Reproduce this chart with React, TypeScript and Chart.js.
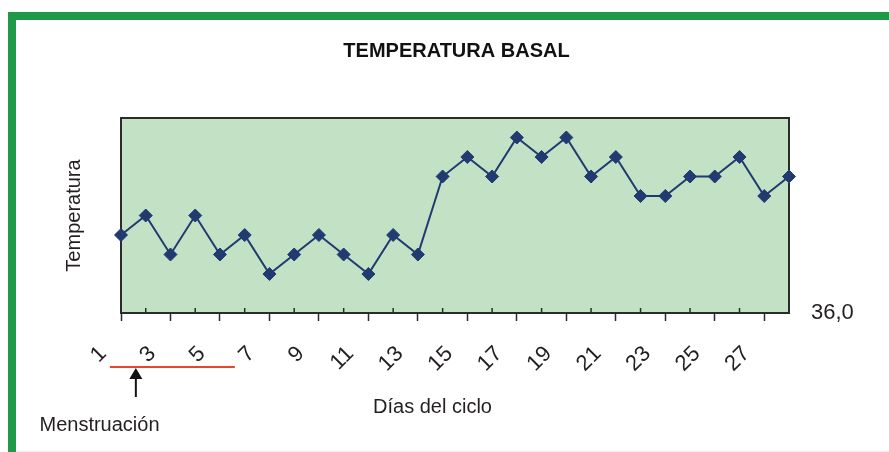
import { useEffect, useRef } from 'react';
import { Chart, registerables } from 'chart.js';

Chart.register(...registerables);

const FONT = '"Liberation Sans", Arial, Helvetica, sans-serif';
const TEXT_COLOR = '#231F20';
const FRAME_GREEN = '#1E9A48';
const PLOT_BG = '#C2E1C5';
const PLOT_BORDER = '#2B2B2B';
const LINE_COLOR = '#213A70';
const NOTE_RED = '#E8452C';

const chartTitle = 'TEMPERATURA BASAL';
const yAxisTitle = 'Temperatura';
const xAxisTitle = 'Días del ciclo';
const noteText = 'Menstruación';

const days = ['1', '2', '3', '4', '5', '6', '7', '8', '9', '10', '11', '12', '13', '14',
  '15', '16', '17', '18', '19', '20', '21', '22', '23', '24', '25', '26', '27', '28'];
const labeledDays = ['1', '3', '5', '7', '9', '11', '13', '15', '17', '19', '21', '23', '25', '27'];
const temperatures = [36.4, 36.5, 36.3, 36.5, 36.3, 36.4, 36.2, 36.3, 36.4, 36.3, 36.2, 36.4, 36.3, 36.7,
  36.8, 36.7, 36.9, 36.8, 36.9, 36.7, 36.8, 36.6, 36.6, 36.7, 36.7, 36.8, 36.6, 36.7];
const yRange = [36.0, 37.0];
const yTickValues = [36.0];
const yTickLabels = ['36,0'];
const menstruationDays = ['1', '5'];

const decorPlugin = {
  id: 'decor',
  beforeDraw(chart: any) {
    const { ctx, chartArea: a } = chart;
    ctx.save();
    ctx.fillStyle = PLOT_BG;
    ctx.fillRect(a.left, a.top, a.right - a.left, a.bottom - a.top);
    ctx.restore();
  },
  beforeDatasetsDraw(chart: any) {
    const { ctx, chartArea: a, scales } = chart;
    const x = scales.x;
    ctx.save();
    ctx.strokeStyle = PLOT_BORDER;
    ctx.lineWidth = 1.5;
    x.ticks.forEach((_t: any, i: number) => {
      if (i % 2 === 1 && i < days.length - 1) {
        const px = x.getPixelForTick(i);
        ctx.beginPath();
        ctx.moveTo(px, a.bottom);
        ctx.lineTo(px, a.bottom - 5);
        ctx.stroke();
      }
    });
    ctx.lineWidth = 2;
    ctx.strokeRect(a.left, a.top, a.right - a.left, a.bottom - a.top);
    ctx.restore();
  },
  afterDraw(chart: any) {
    const { ctx, scales } = chart;
    const x = scales.x;
    ctx.save();
    // x axis title
    ctx.fillStyle = TEXT_COLOR;
    ctx.font = `20px ${FONT}`;
    ctx.textAlign = 'center';
    ctx.textBaseline = 'alphabetic';
    ctx.fillText(xAxisTitle, (x.left + x.right) / 2 - 22.5, 413);

    // menstruation annotation
    const i0 = days.indexOf(menstruationDays[0]);
    const i1 = days.indexOf(menstruationDays[1]);
    const step = x.getPixelForValue(1) - x.getPixelForValue(0);
    const x0 = x.getPixelForValue(i0) - 0.45 * step;
    const x1 = x.getPixelForValue(i1) + 0.6 * step;
    ctx.strokeStyle = NOTE_RED;
    ctx.lineWidth = 2;
    ctx.beginPath();
    ctx.moveTo(x0, 367);
    ctx.lineTo(x1, 367);
    ctx.stroke();

    const ax = x.getPixelForValue(i0) + 0.6 * step;
    ctx.strokeStyle = '#111';
    ctx.fillStyle = '#111';
    ctx.lineWidth = 2;
    ctx.beginPath();
    ctx.moveTo(ax, 376);
    ctx.lineTo(ax, 397);
    ctx.stroke();
    ctx.beginPath();
    ctx.moveTo(ax, 368);
    ctx.lineTo(ax - 6.5, 379);
    ctx.lineTo(ax + 6.5, 379);
    ctx.closePath();
    ctx.fill();

    ctx.fillStyle = TEXT_COLOR;
    ctx.textAlign = 'left';
    ctx.font = `20px ${FONT}`;
    ctx.fillText(noteText, 39.5, 431);
    ctx.restore();
  },
};

export default function App() {
  const ref = useRef<HTMLCanvasElement | null>(null);

  useEffect(() => {
    if (!ref.current) return;
    const chart = new Chart(ref.current, {
      type: 'line',
      data: {
        labels: days,
        datasets: [
          {
            data: temperatures,
            borderColor: LINE_COLOR,
            backgroundColor: LINE_COLOR,
            borderWidth: 2,
            pointStyle: 'rectRot',
            pointRadius: 6.5,
            pointHoverRadius: 6.5,
            pointBorderWidth: 1,
            pointBackgroundColor: LINE_COLOR,
            pointBorderColor: LINE_COLOR,
            tension: 0,
            clip: false as any,
            yAxisID: 'y',
          },
        ],
      },
      options: {
        animation: false,
        responsive: false,
        devicePixelRatio: 1,
        layout: { padding: { left: 24, right: 0, top: 0, bottom: 0 } },
        plugins: {
          legend: { display: false },
          tooltip: { enabled: false },
          title: {
            display: true,
            text: chartTitle,
            color: '#111',
            font: { family: FONT, size: 20, weight: 'bold', lineHeight: 1.2 },
            padding: { top: 39, bottom: 55 },
          },
        },
        scales: {
          x: {
            type: 'category',
            offset: false,
            border: { display: false },
            grid: {
              display: true,
              drawOnChartArea: false,
              drawTicks: true,
              tickLength: 8,
              tickWidth: 1.5,
              tickColor: (c: any) => (c.index % 2 === 0 && c.index < days.length - 1 ? PLOT_BORDER : 'rgba(0,0,0,0)'),
            },
            ticks: {
              autoSkip: false,
              minRotation: 45,
              maxRotation: 45,
              padding: 20,
              labelOffset: -18,
              color: TEXT_COLOR,
              font: { family: FONT, size: 22, lineHeight: 1.2 },
              callback: (_v: any, i: number) => (labeledDays.includes(days[i]) ? days[i] : ''),
            },
            afterFit: (s: any) => {
              s.height = 139;
            },
          },
          y: {
            type: 'linear',
            position: 'left',
            min: yRange[0],
            max: yRange[1],
            border: { display: false },
            grid: { display: false, drawTicks: false },
            ticks: { display: false },
            title: {
              display: true,
              text: yAxisTitle,
              color: TEXT_COLOR,
              font: { family: FONT, size: 20, lineHeight: 1.2 },
              padding: { top: 38, bottom: 0 },
            },
            afterFit: (s: any) => {
              s.width = 97;
            },
          },
          y2: {
            type: 'linear',
            position: 'right',
            display: true,
            min: yRange[0],
            max: yRange[1],
            border: { display: false },
            grid: { display: false, drawTicks: false },
            afterBuildTicks: (s: any) => {
              s.ticks = yTickValues.map((v) => ({ value: v }));
            },
            ticks: {
              padding: 22,
              color: TEXT_COLOR,
              font: { family: FONT, size: 22 },
              callback: (v: any) => yTickLabels[yTickValues.indexOf(Number(v))] ?? '',
            },
            afterFit: (s: any) => {
              s.width = 100;
            },
          },
        },
      } as any,
      plugins: [decorPlugin],
    });
    return () => chart.destroy();
  }, []);

  return (
    <div>
      <div style={{ position: 'fixed', left: 8, top: 12, width: 881, height: 8, background: FRAME_GREEN }} />
      <div style={{ position: 'fixed', left: 8, top: 12, width: 8, height: 440, background: FRAME_GREEN }} />
      <div style={{ position: 'fixed', left: 16, top: 451, width: 873, height: 1, background: '#EEEEEE' }} />
      <canvas
        ref={ref}
        width={889}
        height={452}
        style={{ position: 'fixed', left: 0, top: 0, width: 889, height: 452, display: 'block' }}
      />
    </div>
  );
}
